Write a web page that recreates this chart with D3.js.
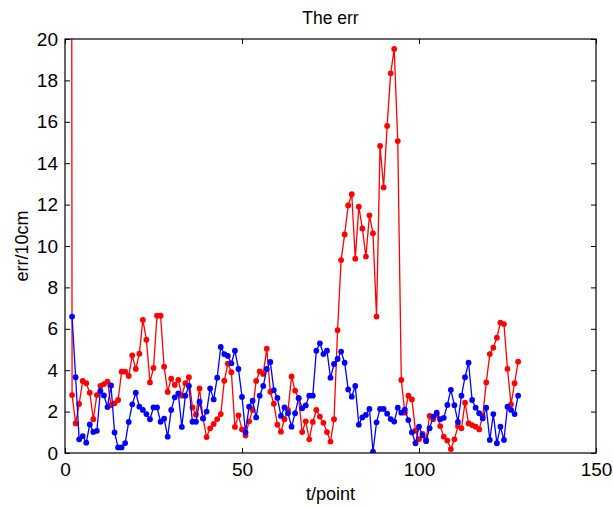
<!DOCTYPE html>
<html>
<head>
<meta charset="utf-8">
<script src="https://cdn.jsdelivr.net/npm/d3@7"></script>
<style>
  body { margin: 0; background: #fff; }
  text { font-family: "Liberation Sans", Arial, sans-serif; fill: #000; }
</style>
</head>
<body>
<div id="chart"></div>
<script>
// sample index t = 1, 2, 3 ...
const redErr = [
  200, 2.8, 1.43, 2.37, 3.48, 3.37, 2.91, 1.63, 2.8, 3.24,
  3.33, 3.45, 2.32, 2.4, 2.56, 3.93, 3.93, 3.72, 4.72, 4.06,
  4.8, 6.43, 5.47, 3.41, 4.11, 6.63, 6.63, 4.17, 2.95, 3.59,
  3.29, 3.53, 2.77, 3.37, 3.66, 2.2, 1.85, 3.12, 1.67, 0.77,
  1.19, 1.4, 1.64, 1.88, 3.49, 4.32, 3.9, 1.26, 1.82, 1.14,
  0.84, 1.53, 2.08, 3.48, 3.94, 3.82, 5.04, 2.96, 2.38, 1.37,
  1.03, 1.63, 2.08, 3.7, 3.01, 2.64, 1.01, 1.53, 0.66, 1.5,
  2.08, 1.76, 1.46, 1.01, 0.55, 1.63, 5.93, 9.32, 10.56, 11.96,
  12.5, 9.39, 11.9, 10.85, 9.49, 11.48, 10.61, 6.59, 14.83, 12.83,
  15.8, 18.34, 19.52, 15.07, 3.53, 1.95, 2.77, 2.59, 1.08, 0.66,
  0.92, 0.66, 1.79, 1.63, 1.84, 1.3, 0.79, 0.6, 0.19, 0.66,
  1.3, 1.19, 2.43, 1.43, 1.35, 1.27, 1.14, 1.79, 3.41, 4.78,
  5.09, 5.57, 6.3, 6.23, 4.06, 2.35, 3.37, 4.41
];
const blueErr = [
  null, 6.59, 3.66, 0.66, 0.82, 0.5, 1.38, 1.02, 1.07, 3.0,
  2.78, 2.22, 3.26, 0.99, 0.27, 0.27, 0.48, 1.5, 2.35, 2.91,
  2.24, 2.08, 1.88, 1.63, 2.2, 2.2, 1.51, 1.66, 0.79, 2.08,
  2.69, 2.88, 1.26, 2.77, 3.24, 1.51, 1.51, 2.48, 1.67, 2.0,
  3.12, 2.59, 3.64, 5.12, 4.78, 4.69, 4.33, 4.94, 4.06, 2.71,
  1.0, 2.24, 2.53, 1.72, 2.77, 3.24, 4.06, 4.4, 3.04, 2.66,
  1.79, 2.2, 1.92, 1.27, 1.92, 2.66, 2.16, 2.3, 2.77, 2.77,
  4.94, 5.3, 4.78, 4.94, 3.64, 4.3, 4.54, 4.9, 4.36, 3.07,
  2.72, 3.24, 1.37, 1.72, 1.84, 2.13, 0.06, 1.48, 2.13, 2.13,
  1.9, 1.64, 1.52, 2.19, 1.95, 2.1, 1.59, 1.0, 0.47, 1.27,
  0.85, 0.57, 1.2, 1.76, 1.95, 1.63, 1.7, 2.32, 3.05, 2.31,
  1.5, 2.77, 3.66, 4.36, 2.56, 2.19, 1.92, 1.67, 2.19, 0.63,
  1.88, 0.47, 1.27, 0.63, 2.24, 2.08, 1.88, 2.77
];
const xTicks = [0, 50, 100, 150];
const yTicks = [0, 2, 4, 6, 8, 10, 12, 14, 16, 18, 20];

const W = 613, H = 506;
const margin = { top: 39, right: 17, bottom: 53, left: 65 };

const svg = d3.select("#chart").append("svg")
  .attr("width", W)
  .attr("height", H);

const x = d3.scaleLinear().domain([0, 150]).range([margin.left, W - margin.right]);
const y = d3.scaleLinear().domain([0, 20]).range([H - margin.bottom, margin.top]);

svg.append("clipPath").attr("id", "plot-clip")
  .append("rect")
  .attr("x", x(0)).attr("y", y(20))
  .attr("width", x(150) - x(0)).attr("height", y(0) - y(20));

const plot = svg.append("g").attr("clip-path", "url(#plot-clip)");

function drawSeries(values, color) {
  const pts = values.map((v, i) => ({ t: i + 1, v })).filter(d => d.v !== null);
  const line = d3.line().x(d => x(d.t)).y(d => y(d.v));
  plot.append("path")
    .datum(pts)
    .attr("fill", "none")
    .attr("stroke", color)
    .attr("stroke-width", 1.3)
    .attr("stroke-linejoin", "round")
    .attr("d", line);
  plot.selectAll(null)
    .data(pts)
    .join("circle")
    .attr("cx", d => x(d.t))
    .attr("cy", d => y(d.v))
    .attr("r", 2.9)
    .attr("fill", color);
}

drawSeries(redErr, "#ff0000");
drawSeries(blueErr, "#0000ff");

// axes: ticks inside, mirrored on top / right
const tickLen = 5;
const axBottom = svg.append("g").attr("transform", `translate(0,${y(0)})`)
  .call(d3.axisBottom(x).tickValues(xTicks).tickSizeInner(-tickLen).tickSizeOuter(0).tickPadding(10));
const axTop = svg.append("g").attr("transform", `translate(0,${y(20)})`)
  .call(d3.axisTop(x).tickValues(xTicks).tickSizeInner(-tickLen).tickSizeOuter(0).tickFormat(""));
const axLeft = svg.append("g").attr("transform", `translate(${x(0)},0)`)
  .call(d3.axisLeft(y).tickValues(yTicks).tickSizeInner(-tickLen).tickSizeOuter(0).tickPadding(7));
const axRight = svg.append("g").attr("transform", `translate(${x(150)},0)`)
  .call(d3.axisRight(y).tickValues(yTicks).tickSizeInner(-tickLen).tickSizeOuter(0).tickFormat(""));

[axBottom, axTop, axLeft, axRight].forEach(a => {
  a.select(".domain").remove();
  a.selectAll("line").attr("stroke", "#000");
  a.selectAll("text").style("font-size", "19px").attr("fill", "#000");
});
axBottom.selectAll("text").attr("dy", "0.71em");

svg.append("rect")
  .attr("x", x(0)).attr("y", y(20))
  .attr("width", x(150) - x(0)).attr("height", y(0) - y(20))
  .attr("fill", "none")
  .attr("stroke", "#000")
  .attr("stroke-width", 1.2);

svg.append("text")
  .attr("x", (x(0) + x(150)) / 2)
  .attr("y", 24)
  .attr("text-anchor", "middle")
  .style("font-size", "17.5px")
  .text("The err");

svg.append("text")
  .attr("x", (x(0) + x(150)) / 2)
  .attr("y", 500)
  .attr("text-anchor", "middle")
  .style("font-size", "18px")
  .text("t/point");

svg.append("text")
  .attr("transform", `translate(28,${(y(0) + y(20)) / 2}) rotate(-90)`)
  .attr("text-anchor", "middle")
  .style("font-size", "18px")
  .text("err/10cm");
</script>
</body>
</html>
